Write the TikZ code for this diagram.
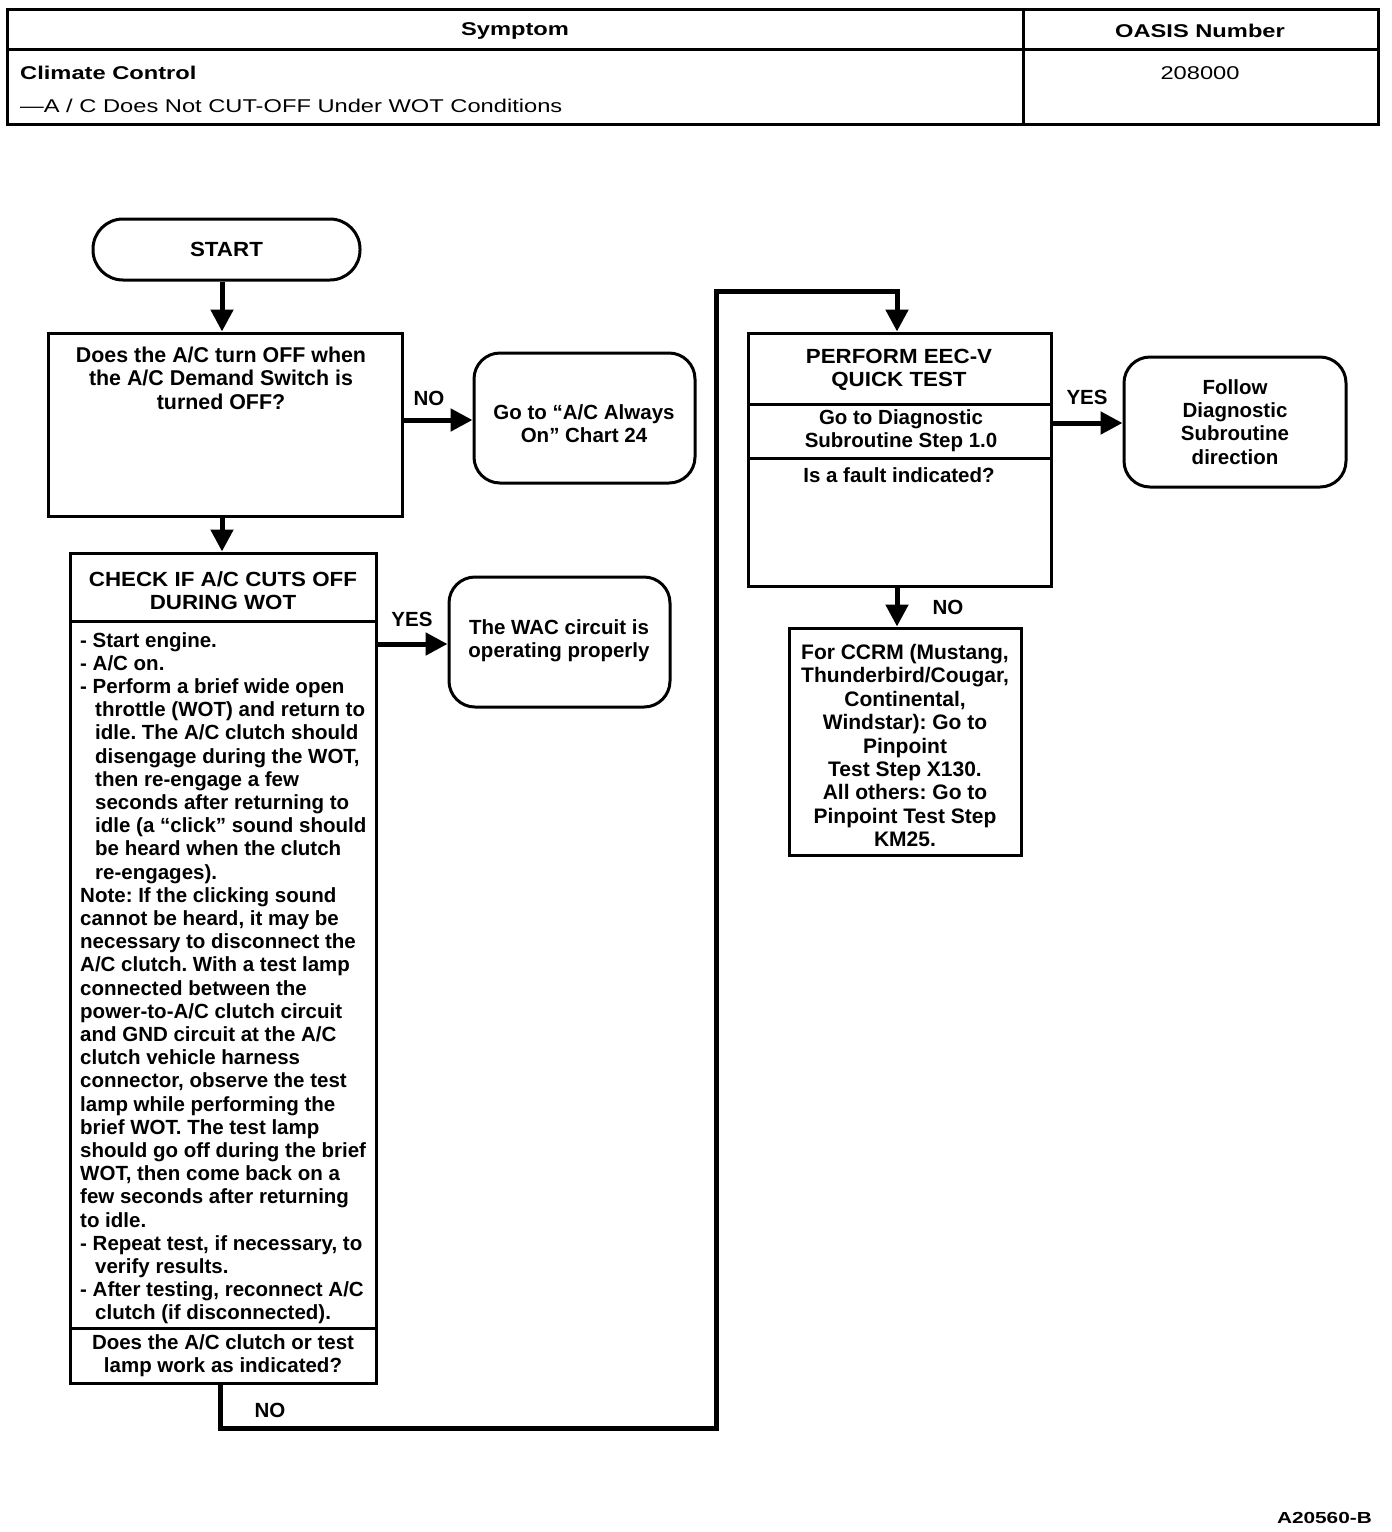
\documentclass[tikz,border=0pt]{standalone}
\usepackage{fontspec}
\usepackage{graphicx}
\setmainfont{Liberation Sans}
\newfontfamily\hdrfont{Liberation Sans}[FakeStretch=1.28,Ligatures=TeX]
\newfontfamily\capfont{Liberation Sans}[FakeStretch=1.09,Ligatures=TeX]
\usetikzlibrary{arrows.meta}
\frenchspacing
\begin{document}
\begin{tikzpicture}[x=1pt,y=-1pt,
  box/.style={draw, line width=3pt, rectangle, inner sep=0pt},
  rbox/.style={draw, line width=3pt, rectangle, rounded corners=26pt, inner sep=0pt},
  txt/.style={font=\bfseries\fontsize{20.5}{23.2}\selectfont, inner sep=0pt, align=center},
  captxt/.style={font=\capfont\bfseries\fontsize{20.5}{23.2}\selectfont, inner sep=0pt, align=center},
  hdr/.style={font=\hdrfont\fontsize{18.5}{22}\selectfont, inner sep=0pt},
  hdrb/.style={font=\hdrfont\bfseries\fontsize{18.5}{22}\selectfont, inner sep=0pt},
  arr/.style={line width=5pt, line join=miter, -{Triangle[length=22pt,width=22pt]}},
  lab/.style={font=\bfseries\fontsize{20.5}{23.2}\selectfont, inner sep=0pt},
  rule/.style={line width=3pt},
]
\useasboundingbox (0,0) rectangle (1392,1532);

% header table
\node[box, minimum width=1371, minimum height=115] (table) at (692.5,66.5) {};
\draw[rule] (7,49) -- (1378,49);
\draw[rule] (1023,9) -- (1023,124);
\node[hdrb] (hsym) at (515,31) {Symptom};
\node[hdrb] (hoas) at (1200,31) {OASIS Number};
\node[hdrb, anchor=west] (hcc) at (20,73) {Climate Control};
\node[hdr, anchor=west] (hsub) at (20,106) {—A / C Does Not CUT-OFF Under WOT Conditions};
\node[hdr] (hnum) at (1200,73) {208000};

% start
\node[draw, line width=3pt, rounded corners=30pt, minimum width=267, minimum height=61, inner sep=0pt, captxt] (start) at (226.5,249.5) {START};

% first question
\node[box, minimum width=354, minimum height=183] (q1) at (225,424.5) {};
\node[txt, font=\bfseries\fontsize{21.4}{23.2}\selectfont, anchor=north] (q1t) at (221,347) {Does the A/C turn OFF when\\the A/C Demand Switch is\\turned OFF?};

\node[rbox, minimum width=221, minimum height=130] (ao) at (584.5,418) {};
\node[txt] (aot) at (584,424) {Go to ``A/C Always\\On'' Chart 24};

% check box
\node[box, minimum width=306, minimum height=830] (chk) at (223,968) {};
\draw[rule] (70,621) -- (376,621);
\draw[rule] (70,1328) -- (376,1328);
\node[captxt] (chkh) at (223,590.5) {CHECK IF A/C CUTS OFF\\DURING WOT};
\node[txt, align=left, anchor=north west] (chkb) at (80,632) {%
- Start engine.\\
- A/C on.\\
- Perform a brief wide open\\
\hspace*{15pt}throttle (WOT) and return to\\
\hspace*{15pt}idle. The A/C clutch should\\
\hspace*{15pt}disengage during the WOT,\\
\hspace*{15pt}then re-engage a few\\
\hspace*{15pt}seconds after returning to\\
\hspace*{15pt}idle (a ``click'' sound should\\
\hspace*{15pt}be heard when the clutch\\
\hspace*{15pt}re-engages).\\
Note: If the clicking sound\\
cannot be heard, it may be\\
necessary to disconnect the\\
A/C clutch. With a test lamp\\
connected between the\\
power-to-A/C clutch circuit\\
and GND circuit at the A/C\\
clutch vehicle harness\\
connector, observe the test\\
lamp while performing the\\
brief WOT. The test lamp\\
should go off during the brief\\
WOT, then come back on a\\
few seconds after returning\\
to idle.\\
- Repeat test, if necessary, to\\
\hspace*{15pt}verify results.\\
- After testing, reconnect A/C\\
\hspace*{15pt}clutch (if disconnected).};
\node[txt] (chkq) at (223,1355.5) {Does the A/C clutch or test\\lamp work as indicated?};

\node[rbox, minimum width=221, minimum height=130] (wac) at (559.5,642) {};
\node[txt] (wact) at (559,641) {The WAC circuit is\\operating properly};

% quick test box
\node[box, minimum width=303, minimum height=253] (pq) at (899.5,459.5) {};
\draw[rule] (748,404) -- (1051,404);
\draw[rule] (748,458) -- (1051,458);
\node[captxt] (pqa) at (899,369.5) {PERFORM EEC-V\\QUICK TEST};
\node[txt] (pqb) at (901,430.5) {Go to Diagnostic\\Subroutine Step 1.0};
\node[txt] (pqc) at (899,475) {Is a fault indicated?};

\node[rbox, minimum width=222, minimum height=130] (fol) at (1235,422) {};
\node[txt] (folt) at (1235,422) {Follow\\Diagnostic\\Subroutine\\direction};

\node[box, minimum width=232, minimum height=227] (pp) at (905,741.5) {};
\node[txt, font=\bfseries\fontsize{21}{23.4}\selectfont] (ppt) at (905,745.5) {For CCRM (Mustang,\\Thunderbird/Cougar,\\Continental,\\Windstar): Go to\\Pinpoint\\Test Step X130.\\All others: Go to\\Pinpoint Test Step\\KM25.};

% connectors
\coordinate (c1) at (716,1428);
\coordinate (c2) at (716,291);
\coordinate (d1) at ([xshift=-2.5pt]pq.south);
\draw[arr] ([xshift=-4.5pt]start.south) -- ([xshift=-3pt]q1.north);
\draw[arr] ([xshift=-3pt]q1.south) -- ([xshift=-1pt]chk.north);
\draw[arr] (q1.east |- 0,420) -- (ao.west |- 0,420);
\draw[arr] (chk.east |- 0,644) -- (wac.west |- 0,644);
\draw[arr] ([xshift=-3pt]chk.south) |- (c1) -- (c2) -| ([xshift=-2.5pt]pq.north);
\draw[arr] (pq.east |- 0,423) -- (fol.west |- 0,423);
\draw[arr] (d1) -- (d1 |- pp.north);

% labels
\node[lab] (lno1) at (429,398) {NO};
\node[lab] (lyes1) at (412,619) {YES};
\node[lab] (lno2) at (270,1410) {NO};
\node[lab] (lyes2) at (1087,397) {YES};
\node[lab] (lno3) at (948,607) {NO};

\node[inner sep=0pt, anchor=east, font=\bfseries\fontsize{16}{18}\selectfont] (fig) at (1372,1518) {\scalebox{1.3}[1]{A20560-B}};
\end{tikzpicture}
\end{document}
